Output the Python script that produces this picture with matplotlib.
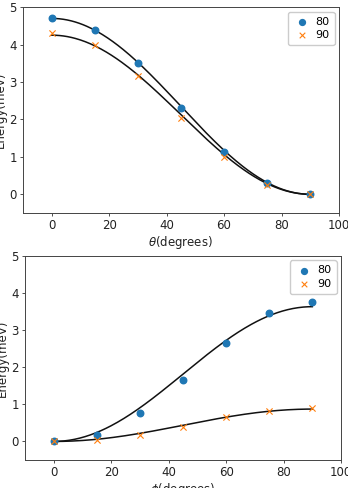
import numpy as np
import matplotlib
matplotlib.use("Agg")
import matplotlib.pyplot as plt

# --- data ---
angles = [0, 15, 30, 45, 60, 75, 90]
labels = ["80", "90"]

theta_80 = [4.72, 4.40, 3.51, 2.31, 1.14, 0.30, 0.0]
theta_90 = [4.30, 4.00, 3.15, 2.05, 1.00, 0.26, 0.0]

phi_80 = [0.0, 0.18, 0.76, 1.65, 2.65, 3.45, 3.76]
phi_90 = [0.0, 0.05, 0.18, 0.40, 0.65, 0.83, 0.89]

FS = 8.5


def fit_curve(x, y, basis):
    # least squares fit y = a*basis(x), evaluated on a fine grid
    x = np.radians(np.array(x, dtype=float))
    b = basis(x)
    a = np.dot(b, y) / np.dot(b, b)
    xf = np.linspace(0, np.pi / 2, 200)
    return np.degrees(xf), a * basis(xf)


def draw_panel(ax, s80, s90, basis, xlabel, ylabel):
    for ys in (s80, s90):
        xf, yf = fit_curve(angles, ys, basis)
        ax.plot(xf, yf, color="#111111", lw=1.1, zorder=2)
    ax.scatter(angles, s80, s=22, marker="o", color="#1f77b4", label=labels[0], zorder=3)
    ax.scatter(angles, s90, s=20, marker="x", color="#ff7f0e", linewidths=0.8,
               label=labels[1], zorder=3)
    ax.set_xlim(-10, 100)
    ax.set_ylim(-0.5, 5)
    ax.set_xticks([0, 20, 40, 60, 80, 100])
    ax.set_yticks([0, 1, 2, 3, 4, 5])
    ax.tick_params(labelsize=FS, length=2.5, width=0.6, pad=2, colors="#333333",
                   labelcolor="#222222")
    for sp in ax.spines.values():
        sp.set_linewidth(0.7)
        sp.set_color("#444444")
    ax.set_xlabel(xlabel, fontsize=FS, labelpad=1, color="#222222")
    ax.set_ylabel(ylabel, fontsize=FS, labelpad=2, color="#222222")
    ax.legend(loc="upper right", fontsize=8, handletextpad=0.4, handlelength=1.6,
              borderpad=0.45, labelspacing=0.35, borderaxespad=0.4,
              framealpha=1, edgecolor="#cccccc", markerscale=0.9)


fig = plt.figure(figsize=(3.48, 4.88), dpi=100)
ax1 = fig.add_axes([0.066, 0.5635, 0.908, 0.422])
ax2 = fig.add_axes([0.072, 0.0574, 0.908, 0.418])

draw_panel(ax1, theta_80, theta_90, lambda x: np.cos(x) ** 2,
           r"$\theta$(degrees)", "Energy(mev)")
draw_panel(ax2, phi_80, phi_90, lambda x: np.sin(x) ** 2,
           r"$\phi$(degrees)", "Energy(meV)")

fig.savefig("out.png", dpi=100)
